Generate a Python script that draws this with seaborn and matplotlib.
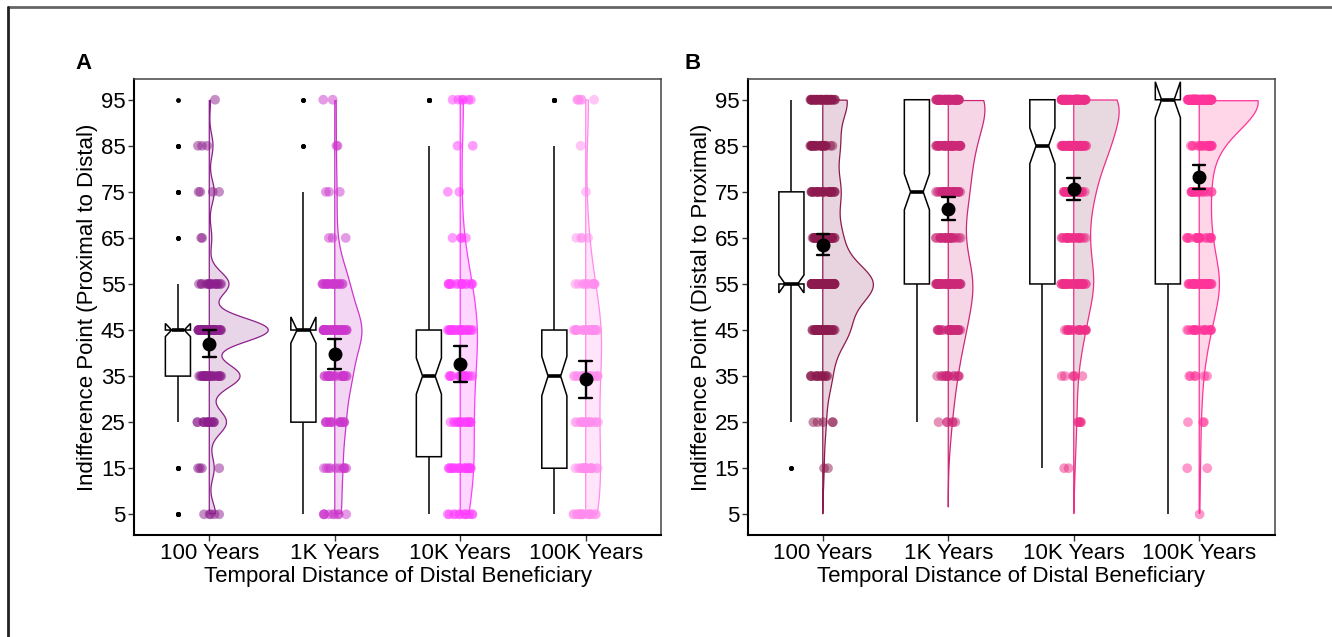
import numpy as np
import pandas as pd
import matplotlib
matplotlib.use("Agg")
import matplotlib.pyplot as plt
import seaborn as sns
from matplotlib.lines import Line2D

sns.set_style("ticks")
plt.rcParams["font.family"] = ["Liberation Sans", "DejaVu Sans"]
plt.rcParams["text.color"] = "black"
plt.rcParams["axes.labelcolor"] = "black"
plt.rcParams["xtick.color"] = "black"
plt.rcParams["ytick.color"] = "black"

# response levels and conditions
levels = [5, 15, 25, 35, 45, 55, 65, 75, 85, 95]
conditions = ["100 Years", "1K Years", "10K Years", "100K Years"]

# panel A: number of responses per level (Proximal to Distal)
a_100y = [5, 4, 14, 25, 48, 16, 2, 4, 3, 1]
a_1k = [9, 10, 14, 22, 38, 19, 3, 3, 2, 2]
a_10k = [12, 19, 17, 19, 25, 16, 4, 2, 2, 6]
a_100k = [19, 20, 17, 18, 24, 12, 4, 1, 1, 6]

# panel B: number of responses per level (Distal to Proximal)
b_100y = [0, 2, 5, 14, 40, 80, 28, 27, 25, 39]
b_1k = [0, 0, 6, 14, 28, 44, 22, 34, 40, 72]
b_10k = [0, 2, 5, 6, 18, 35, 22, 32, 57, 83]
b_100k = [1, 2, 3, 6, 18, 38, 18, 18, 22, 134]

a_colors = ["#8C1F8C", "#CC36CC", "#FF3DFF", "#FF8CEE"]
a_fills = ["#E8D5E8", "#F3D6F3", "#FFD6FF", "#FFE4FA"]
b_colors = ["#8C1A4E", "#CC2878", "#EE2E88", "#FF3399"]
b_fills = ["#E8D4DE", "#F6D6E6", "#E8D8E0", "#FFD6E8"]


def nrd0(x):
    sd = x.std(ddof=1)
    q1, q3 = np.percentile(x, [25, 75])
    lo = min(sd, (q3 - q1) / 1.34)
    if lo <= 0:
        lo = sd
    return 0.9 * lo * len(x) ** -0.2


def draw_panel(ax, counts, colors, fills, ylabel):
    frames = []
    for i, c in enumerate(counts):
        frames.append(pd.DataFrame({"pos": i, "cond": conditions[i],
                                    "value": np.repeat(levels, c).astype(float)}))
    df = pd.concat(frames, ignore_index=True)

    # half violins (gaussian kde, clipped to the scale limits)
    curves = []
    for i in range(len(counts)):
        x = df.loc[df["pos"] == i, "value"].to_numpy()
        bw = nrd0(x)
        grid = np.linspace(x.min() - 3 * bw, x.max() + 3 * bw, 512)
        grid = grid[(grid >= 5) & (grid <= 95)]
        dens = np.exp(-0.5 * ((grid[:, None] - x[None, :]) / bw) ** 2).sum(1)
        dens /= len(x) * bw * np.sqrt(2 * np.pi)
        curves.append((grid, dens))
    top = max(d.max() for _, d in curves)
    for i, (grid, dens) in enumerate(curves):
        w = dens / top * 0.47
        xs = np.concatenate([i + w, [i, i]])
        ys = np.concatenate([grid, [grid[-1], grid[0]]])
        ax.fill(xs, ys, facecolor=fills[i], edgecolor=colors[i], lw=0.9, zorder=1)

    np.random.seed(3)
    sns.stripplot(data=df, x="pos", y="value", hue="cond", hue_order=conditions,
                  palette=dict(zip(conditions, colors)), native_scale=True,
                  jitter=0.1, size=7, alpha=0.5, linewidth=0, legend=False,
                  zorder=2, ax=ax)

    sns.boxplot(x=df["pos"] - 0.25, y=df["value"], native_scale=True, orient="x",
                width=0.2, color="white", saturation=1, linecolor="black",
                linewidth=1.1, fliersize=2.5, showcaps=False, shownotches=True,
                medianprops={"linewidth": 2.6},
                flierprops={"marker": "o", "markerfacecolor": "black",
                            "markeredgecolor": "black"},
                ax=ax)

    sns.pointplot(data=df, x="pos", y="value", native_scale=True,
                  errorbar=("se", 1.96), color="black", linestyle="none",
                  marker="o", markersize=8, capsize=0.1,
                  err_kws={"linewidth": 1.7, "zorder": 9}, zorder=10, ax=ax)

    ax.set_xlim(-0.6, 3.6)
    ax.set_ylim(0.5, 99.5)
    ax.set_xticks(range(len(conditions)), conditions)
    ax.set_yticks(levels)
    ax.set_xlabel("Temporal Distance of Distal Beneficiary", fontsize=16, labelpad=1)
    ax.set_ylabel(ylabel, fontsize=16, labelpad=2)
    ax.tick_params(labelsize=16, length=4, width=1, color="#333333", pad=2)
    for side in ["top", "right"]:
        ax.spines[side].set_color("#444444")
        ax.spines[side].set_linewidth(1.1)
    for side in ["left", "bottom"]:
        ax.spines[side].set_color("black")
        ax.spines[side].set_linewidth(1.5)


W, H = 1332, 637
fig = plt.figure(figsize=(W / 100, H / 100), dpi=100)
ax_a = fig.add_axes([134 / W, 1 - 535 / H, 527 / W, 456 / H])
ax_b = fig.add_axes([747.5 / W, 1 - 535 / H, 527 / W, 456 / H])

draw_panel(ax_a, [a_100y, a_1k, a_10k, a_100k], a_colors, a_fills,
           "Indifference Point (Proximal to Distal)")
draw_panel(ax_b, [b_100y, b_1k, b_10k, b_100k], b_colors, b_fills,
           "Indifference Point (Distal to Proximal)")

fig.text(75 / W, 1 - 69 / H, "A", fontsize=16, fontweight="bold", va="baseline")
fig.text(685 / W, 1 - 69 / H, "B", fontsize=16, fontweight="bold", va="baseline")

# outer frame of the figure
fig.add_artist(Line2D([8 / W, 1], [1 - 7 / H, 1 - 7 / H], transform=fig.transFigure,
                      color="#666666", lw=2))
fig.add_artist(Line2D([8 / W, 8 / W], [0, 1 - 7 / H], transform=fig.transFigure,
                      color="#222222", lw=2))

fig.savefig("out.png", dpi=100)
